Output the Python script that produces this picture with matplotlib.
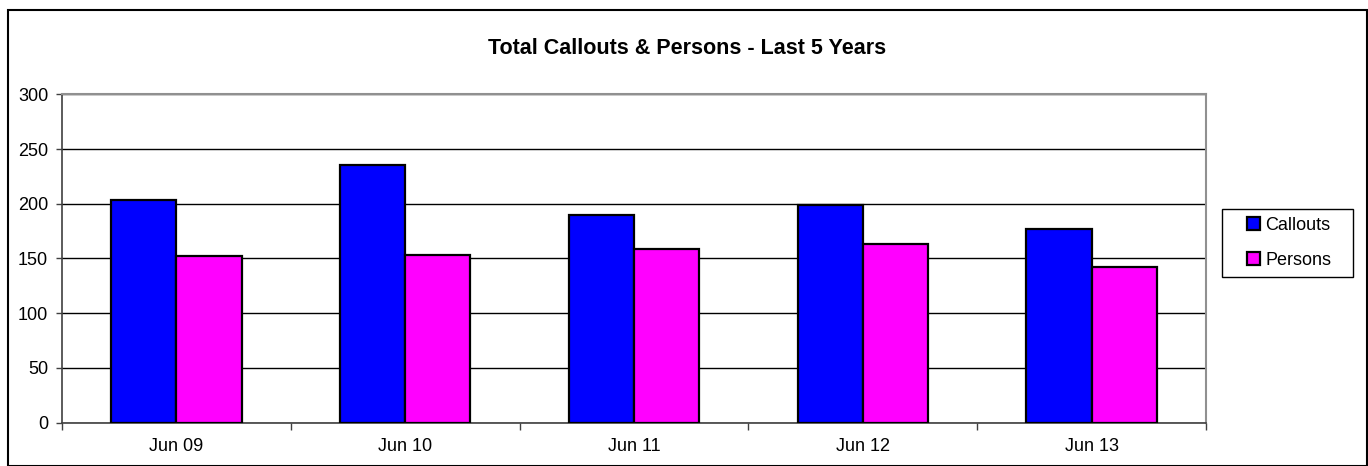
import matplotlib.pyplot as plt
import matplotlib.patches as patches
import numpy as np

plt.rcParams['font.family'] = ['Liberation Sans', 'DejaVu Sans']

categories = ['Jun 09', 'Jun 10', 'Jun 11', 'Jun 12', 'Jun 13']
callouts = [203, 235, 190, 199, 177]
persons = [152, 153, 159, 163, 142]

fig = plt.figure(figsize=(13.68, 4.66), dpi=100)
ax = fig.add_axes([62 / 1368, 1 - 422.5 / 466, (1206 - 62) / 1368, (422.5 - 94.3) / 466])

x = np.arange(len(categories))
w = 0.285
ax.bar(x - w / 2, callouts, w, color='#0000ff', edgecolor='black', linewidth=1.6, label='Callouts', zorder=3)
ax.bar(x + w / 2, persons, w, color='#ff00ff', edgecolor='black', linewidth=1.6, label='Persons', zorder=3)

ax.set_xlim(-0.5, len(categories) - 0.5)
ax.set_ylim(0, 300)
ax.set_yticks(range(0, 301, 50))
ax.yaxis.grid(True, color='black', linewidth=1, zorder=0)
ax.set_axisbelow(True)

ax.set_xticks(x)
ax.set_xticklabels(categories, fontsize=13)
ax.set_xticks(np.arange(-0.5, len(categories), 1), minor=True)
ax.tick_params(axis='x', which='major', length=0, pad=11)
ax.tick_params(axis='x', which='minor', length=5, width=1, color='#404040', direction='out')
ax.tick_params(axis='y', length=4, width=1, color='#404040', direction='out', pad=6, labelsize=13)

for side in ['left', 'bottom']:
    ax.spines[side].set_color('#404040')
    ax.spines[side].set_linewidth(1.2)
for side in ['top', 'right']:
    ax.spines[side].set_color('#909090')
    ax.spines[side].set_linewidth(1.5)

fig.text(687 / 1368, 1 - 48 / 466, 'Total Callouts & Persons - Last 5 Years',
         ha='center', va='center', fontsize=15.5, fontweight='bold')

# legend entries without frame; the box is drawn separately (wider side padding)
leg = fig.legend(loc='center', bbox_to_anchor=(1289 / 1368, 1 - 243 / 466),
                 fontsize=13, frameon=False,
                 handlelength=0.7, handleheight=0.7, handletextpad=0.3,
                 labelspacing=1.0, borderpad=0, borderaxespad=0)
fig.patches.append(patches.Rectangle((1222 / 1368, 1 - 277 / 466), 131 / 1368, 68 / 466,
                                     transform=fig.transFigure, fill=False,
                                     edgecolor='black', linewidth=1))

# outer chart border
fig.patches.append(patches.Rectangle((7.5 / 1368, 0.5 / 466), (1367 - 7.5) / 1368, (466 - 10 - 0.5) / 466,
                                     transform=fig.transFigure, fill=False,
                                     edgecolor='black', linewidth=1.5))

fig.savefig('out.png', dpi=100)
